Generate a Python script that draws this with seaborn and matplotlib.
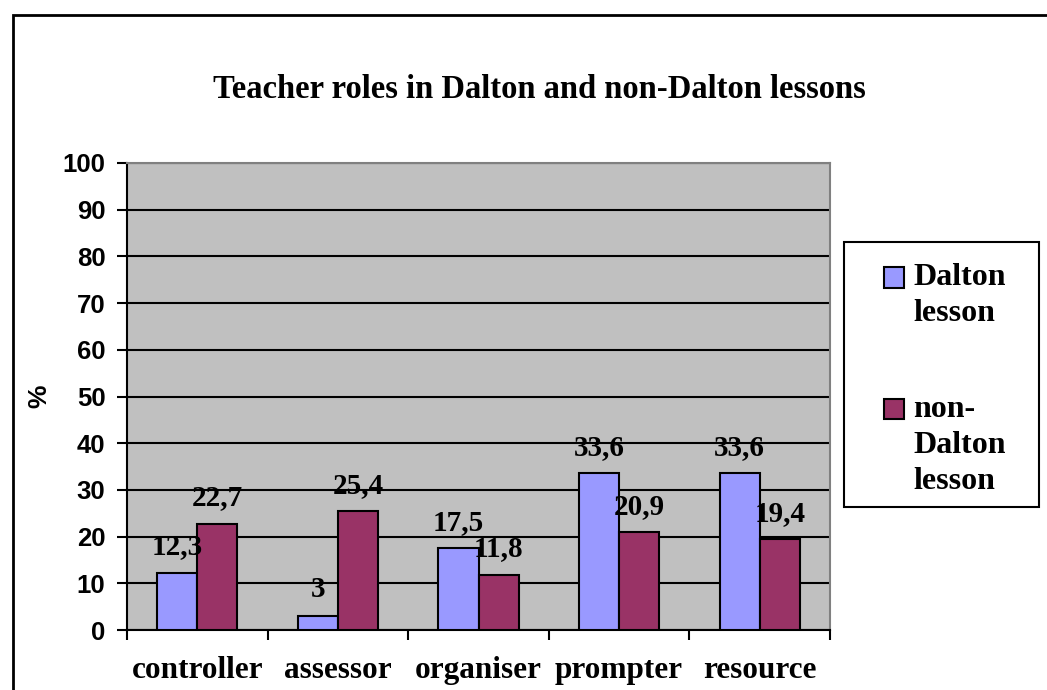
import matplotlib
matplotlib.use("Agg")
import matplotlib.pyplot as plt
from matplotlib.patches import Rectangle
from matplotlib.legend_handler import HandlerPatch
import pandas as pd
import seaborn as sns

# data
roles = ["controller", "assessor", "organiser", "prompter", "resource"]
dalton = [12.3, 3, 17.5, 33.6, 33.6]
non_dalton = [22.7, 25.4, 11.8, 20.9, 19.4]
series = ["Dalton\nlesson", "non-\nDalton\nlesson"]
colors = ["#9999FF", "#993366"]
title = "Teacher roles in Dalton and non-Dalton lessons"

df = pd.DataFrame({
    "role": roles * 2,
    "value": dalton + non_dalton,
    "lesson": [series[0]] * len(roles) + [series[1]] * len(roles),
})

sns.set_theme(style="white", rc={"text.color": "black", "axes.labelcolor": "black",
                                 "xtick.color": "black", "ytick.color": "black"})
serif = "Liberation Serif"
sans = "Liberation Sans"

W, H = 1047, 690
fig = plt.figure(figsize=(W / 100, H / 100), dpi=100)
ax = fig.add_axes([127 / W, 60 / H, 703 / W, 467 / H])
ax.set_facecolor("#C0C0C0")

sns.barplot(data=df, x="role", y="value", hue="lesson", palette=colors, width=0.57,
            edgecolor="black", linewidth=1.5, saturation=1, ax=ax, zorder=3)

# value labels with decimal comma
for cont in ax.containers:
    ax.bar_label(cont, labels=[f"{v:g}".replace(".", ",") for v in cont.datavalues],
                 padding=9, fontsize=21, fontweight="bold", family=serif, color="black")

ax.set_ylim(0, 100)
ax.set_yticks(range(0, 101, 10))
ax.set_xlim(-0.5, len(roles) - 0.5)
ax.set_xticks(range(len(roles)))
ax.set_xticklabels(roles, fontsize=22.5, fontweight="bold", family=serif)
ax.set_xticks([i - 0.5 for i in range(len(roles) + 1)], minor=True)
ax.tick_params(axis="x", which="major", length=0, pad=19, bottom=True)
ax.tick_params(axis="x", which="minor", length=7.5, width=1.5, color="black",
               direction="out", bottom=True)
ax.tick_params(axis="y", length=7.5, width=1.5, color="black", pad=8,
               direction="out", left=True)
for lab in ax.get_yticklabels():
    lab.set_fontfamily(sans)
    lab.set_fontweight("bold")
    lab.set_fontsize(18.5)

ax.set_axisbelow(True)
ax.yaxis.grid(True, color="black", linewidth=1.5)
ax.xaxis.grid(False)
for side in ["left", "bottom"]:
    ax.spines[side].set_color("black")
    ax.spines[side].set_linewidth(1.5)
for side in ["top", "right"]:
    ax.spines[side].set_color("#808080")
    ax.spines[side].set_linewidth(1.5)

ax.set_xlabel("")
ax.set_ylabel("%", fontsize=19, fontweight="bold", family=sans)
ax.yaxis.set_label_coords(-0.108, 0.5)

fig.text(539 / W, 1 - 90 / H, title, ha="center", va="center",
         fontsize=23.5, fontweight="bold", family=serif)

LEG_SPACING = 1.31  # line spacing of the legend labels


# legend squares sit beside the first line of a multi-line label
def top_square(legend, orig_handle, xdescent, ydescent, width, height, fontsize):
    n_extra = orig_handle.get_label().count("\n")
    shift = n_extra * 0.5 * 1.127 * fontsize
    return Rectangle((-xdescent, -ydescent + shift), width, height)


handles, labels = ax.get_legend_handles_labels()
leg = ax.legend(handles, labels, loc="upper left", bbox_to_anchor=(884 / W, 1 - 263 / H),
                bbox_transform=fig.transFigure, frameon=False, borderpad=0, borderaxespad=0,
                prop=dict(family=serif, weight="bold", size=23), handlelength=0.62,
                handleheight=0.62, handletextpad=0.3, labelspacing=2.1,
                handler_map={h: HandlerPatch(patch_func=top_square) for h in handles})
for t in leg.get_texts():
    t.set_linespacing(LEG_SPACING)

# legend frame and outer chart border
fig.add_artist(Rectangle((844 / W, 1 - 507 / H), 195 / W, 265 / H, transform=fig.transFigure,
                         fill=False, edgecolor="black", linewidth=1.5))
fig.add_artist(Rectangle((13 / W, -0.05), 1.1, 1.05 - 15 / H, transform=fig.transFigure,
                         fill=False, edgecolor="black", linewidth=2))

fig.savefig("out.png", dpi=100, facecolor="white")
